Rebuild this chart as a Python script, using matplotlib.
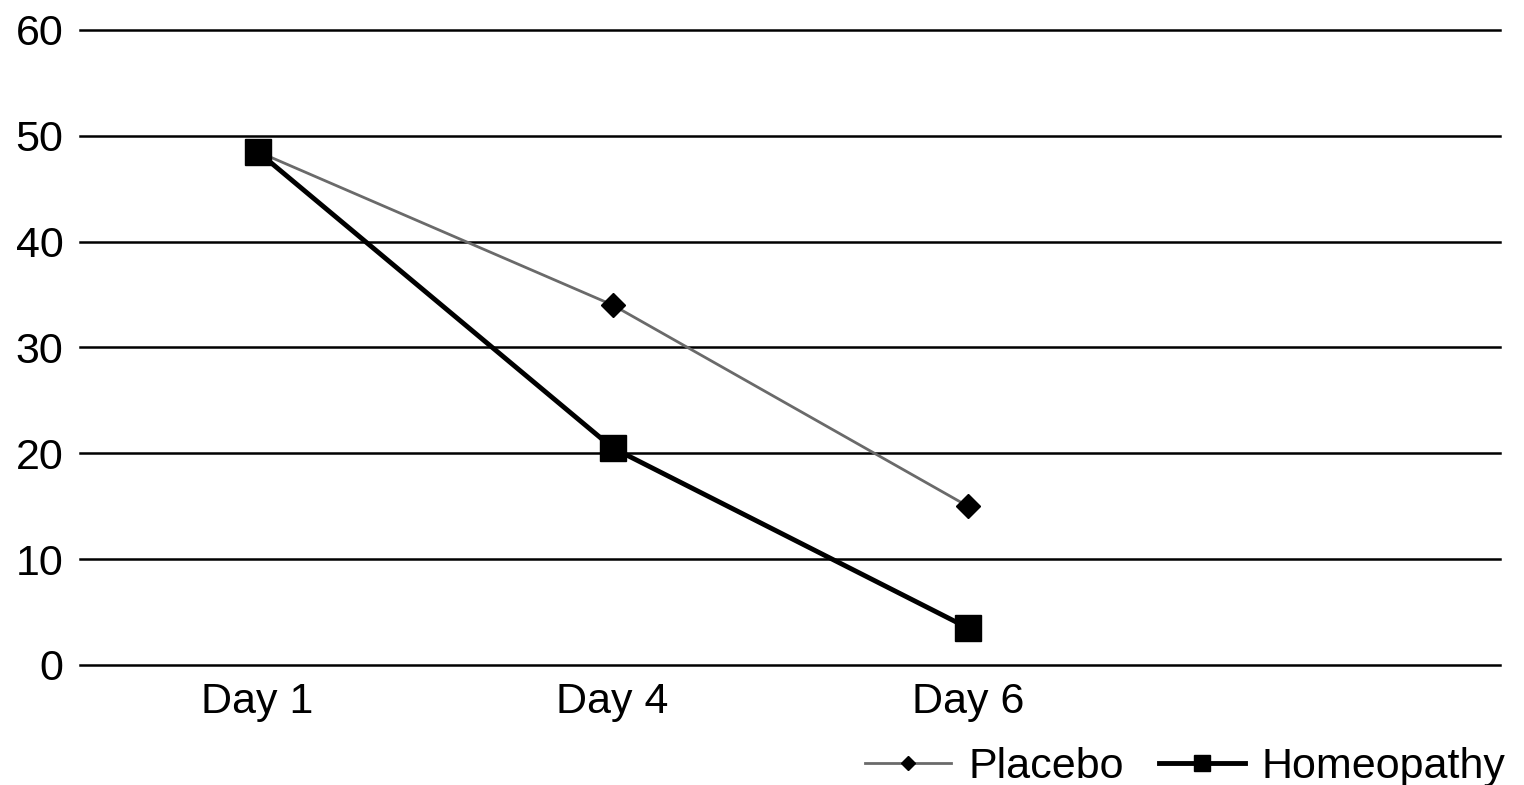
import matplotlib.pyplot as plt

# dados
days = ['Day 1', 'Day 4', 'Day 6']
placebo = [48.5, 34, 15]
homeopathy = [48.5, 20.5, 3.5]
y_ticks = [0, 10, 20, 30, 40, 50, 60]

plt.rcParams['font.family'] = ['Liberation Sans', 'DejaVu Sans']

fig = plt.figure(figsize=(15.24, 7.85), dpi=100)
ax = fig.add_axes([0.0525, 0.153, 0.932, 0.809])

x = [i + 0.5 for i in range(len(days))]

# linhas de grade
for v in y_ticks:
    ax.axhline(v, color='black', linewidth=1.8, zorder=1, clip_on=False)

ax.plot(x, placebo, color='#6a6a6a', linewidth=2, marker='D', markersize=12,
        markerfacecolor='black', markeredgecolor='black', label='Placebo', zorder=3)
ax.plot(x, homeopathy, color='black', linewidth=3.5, marker='s', markersize=19,
        label='Homeopathy', zorder=3)

ax.set_xlim(0, 4)
ax.set_ylim(0, 60)
ax.set_yticks(y_ticks)
ax.set_xticks(x)
ax.set_xticklabels(days)
ax.tick_params(axis='both', length=0, labelsize=31)
ax.tick_params(axis='y', pad=12)
ax.tick_params(axis='x', pad=12)
for s in ax.spines.values():
    s.set_visible(False)

fig.legend(loc='lower right', bbox_to_anchor=(1.005, -0.035), ncol=2, frameon=False,
           fontsize=31, handlelength=2.0, columnspacing=0.8, handletextpad=0.4,
           borderaxespad=0.2, markerscale=0.6)

fig.savefig('out.png', dpi=100)
